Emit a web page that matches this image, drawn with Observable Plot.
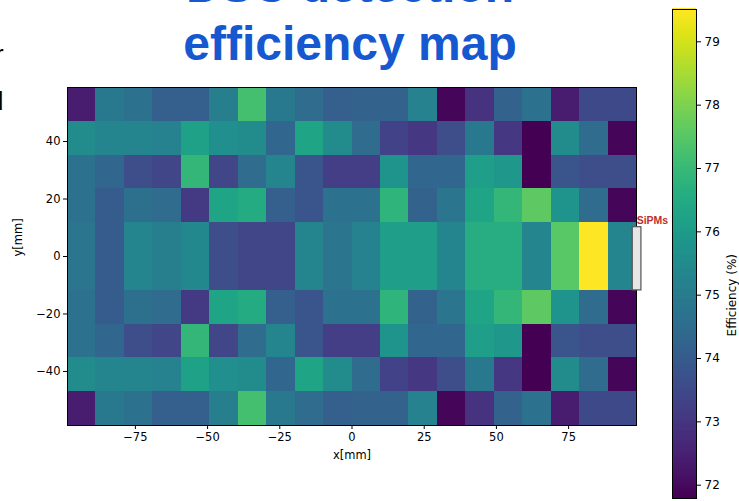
<!DOCTYPE html>
<html>
<head>
<meta charset="utf-8">
<script src="https://cdn.jsdelivr.net/npm/d3@7"></script>
<script src="https://cdn.jsdelivr.net/npm/@observablehq/plot@0.6"></script>
<style>
  body { margin: 0; background: #fff; }
  #chart { position: relative; width: 739px; height: 501px; overflow: hidden; background: #fff; }
  #chart svg { position: absolute; top: 0; }
  .edge { position: absolute; font: 26px "Liberation Sans", Arial, sans-serif; line-height: 26px; color: #000; }
</style>
</head>
<body>
<div id="chart">
  <div class="edge" style="left:-5px; top:41px;">r</div>
  <div class="edge" style="left:-11px; top:88px;">d</div>
</div>
<script>
// Bin edges of the detector map (mm)
const xEdges = [-98.5, -88.65, -78.8, -68.95, -59.1, -49.25, -39.4, -29.55, -19.7, -9.85, 0,
                 9.85, 19.7, 29.55, 39.4, 49.25, 59.1, 68.95, 78.8, 88.65, 98.5];
const yEdges = [58.8, 47.04, 35.28, 23.52, 11.76, 0, -11.76, -23.52, -35.28, -47.04, -58.8];

// Detection efficiency (%) per cell, rows listed from top (y = +58.8) to bottom
const row1  = [72.4, 74.9, 74.7, 74.1, 74.1, 75.1, 77.2, 74.9, 74.5, 74.1, 74.2, 74.2, 75.2, 71.9, 72.9, 74.2, 74.7, 72.4, 73.5, 73.5];
const row2  = [75.5, 75.3, 75.3, 75.2, 76.2, 75.6, 75.5, 74.3, 76.3, 75.5, 74.5, 73.3, 73.0, 73.6, 74.9, 73.0, 71.8, 75.5, 74.5, 71.9];
const row3  = [74.7, 74.3, 73.6, 73.4, 76.9, 73.4, 74.5, 75.3, 73.8, 73.2, 73.2, 75.8, 74.3, 74.3, 76.1, 75.9, 71.8, 73.8, 73.6, 73.6];
const row4  = [74.7, 74.0, 74.6, 74.5, 73.1, 76.3, 76.5, 74.1, 73.8, 74.7, 74.7, 76.8, 74.2, 74.8, 76.3, 76.9, 77.6, 75.8, 74.5, 71.9];
const row5  = [74.8, 74.0, 75.3, 75.1, 75.4, 73.6, 73.4, 73.4, 75.3, 74.8, 75.2, 76.1, 76.1, 75.3, 76.6, 76.6, 75.3, 77.5, 79.5, 75.3];
const row6  = [74.8, 74.0, 75.3, 75.1, 75.4, 73.6, 73.4, 73.4, 75.3, 74.8, 75.2, 76.1, 76.1, 75.3, 76.6, 76.6, 75.3, 77.5, 79.5, 75.3];
const row7  = [74.7, 74.0, 74.6, 74.5, 73.1, 76.3, 76.5, 74.1, 73.8, 74.7, 74.7, 76.8, 74.2, 74.8, 76.3, 76.9, 77.6, 75.8, 74.5, 71.9];
const row8  = [74.7, 74.3, 73.6, 73.4, 76.9, 73.4, 74.5, 75.3, 73.8, 73.2, 73.2, 75.8, 74.3, 74.3, 76.1, 75.9, 71.8, 73.8, 73.6, 73.6];
const row9  = [75.5, 75.3, 75.3, 75.2, 76.2, 75.6, 75.5, 74.3, 76.3, 75.5, 74.5, 73.3, 73.0, 73.6, 74.9, 73.0, 71.8, 75.5, 74.5, 71.9];
const row10 = [72.4, 74.9, 74.7, 74.1, 74.1, 75.1, 77.2, 74.9, 74.5, 74.1, 74.2, 74.2, 75.2, 71.9, 72.9, 74.2, 74.7, 72.4, 73.5, 73.5];

// Axis ticks
const xTicks = [-75, -50, -25, 0, 25, 50, 75];
const yTicks = [-40, -20, 0, 20, 40];
const cbarTicks = [72, 73, 74, 75, 76, 77, 78, 79];
const cbarRange = [71.79, 79.51];

// SiPM readout strip on the right edge (mm)
const sipm = [{x1: 97.2, x2: 100.2, y1: -11.8, y2: 10.2, lx: 104, ly: 11.2, label: "SiPMs"}];

const rows = [row1, row2, row3, row4, row5, row6, row7, row8, row9, row10];
const cells = [];
rows.forEach((vals, r) => vals.forEach((v, c) => cells.push({
  x1: xEdges[c], x2: xEdges[c + 1], y1: yEdges[r + 1], y2: yEdges[r], v
})));

const minus = d => (d < 0 ? "\u2212" + (-d) : String(d));
const color = {type: "linear", scheme: "viridis", domain: cbarRange};
const tickFont = "DejaVu Sans, sans-serif";

const main = Plot.plot({
  width: 739, height: 501,
  marginLeft: 67, marginRight: 103, marginTop: 87, marginBottom: 76,
  style: {fontFamily: tickFont, fontSize: "11.5px", color: "#000", background: "transparent", overflow: "visible"},
  x: {domain: [xEdges[0], xEdges[20]]},
  y: {domain: [yEdges[10], yEdges[0]]},
  color,
  marks: [
    Plot.rect(cells, {x1: "x1", x2: "x2", y1: "y1", y2: "y2", fill: "v", shapeRendering: "crispEdges"}),
    Plot.frame({stroke: "#000", strokeWidth: 1}),
    Plot.axisX({ticks: xTicks, tickSize: 4, tickPadding: 3, tickFormat: minus, label: null, stroke: "#000"}),
    Plot.axisY({ticks: yTicks, tickSize: 4, tickPadding: 3, tickFormat: minus, label: null, stroke: "#000"}),
    Plot.text(["x[mm]"], {frameAnchor: "bottom", lineAnchor: "top", dy: 25, fontSize: 11.5, fill: "#000"}),
    Plot.text(["y[mm]"], {frameAnchor: "left", rotate: -90, dx: -49, fontSize: 11.5, fill: "#000"}),
    Plot.text(["DSC detection\nefficiency map"], {
      frameAnchor: "top", lineAnchor: "bottom", dy: -28, dx: -2, lineHeight: 1.2,
      fontSize: 48, fontWeight: "bold", fontFamily: "Liberation Sans, Arial, sans-serif", fill: "#1558d0"
    }),
    Plot.rect(sipm, {x1: "x1", x2: "x2", y1: "y1", y2: "y2", fill: "#e6e6e6", stroke: "#555", strokeWidth: 1.2}),
    Plot.text(sipm, {x: "lx", y: "ly", text: "label", lineAnchor: "bottom", fontSize: 10.5, fontWeight: "bold",
      fontFamily: "Liberation Sans, Arial, sans-serif", fill: "#c0302b"})
  ]
});
main.style.left = "0px";
document.getElementById("chart").appendChild(main);

// Colour bar: a stack of thin bands sampled across the colour domain
const nBands = 300;
const bandH = (cbarRange[1] - cbarRange[0]) / nBands;
const bands = d3.range(nBands).map(i => cbarRange[0] + i * bandH);

const bar = Plot.plot({
  width: 99, height: 501,
  marginLeft: 32, marginRight: 43, marginTop: 9, marginBottom: 3,
  style: {fontFamily: tickFont, fontSize: "12px", color: "#000", background: "transparent", overflow: "visible"},
  x: {domain: [0, 1], axis: null},
  y: {domain: cbarRange},
  color,
  marks: [
    Plot.rect(bands, {x1: 0, x2: 1, y1: d => d, y2: d => d + bandH * 1.6, fill: d => d + bandH / 2}),
    Plot.frame({stroke: "#000", strokeWidth: 1}),
    Plot.axisY({anchor: "right", ticks: cbarTicks, tickSize: 4, tickPadding: 4, label: null, stroke: "#000"}),
    Plot.text(["Efficiency (%)"], {frameAnchor: "right", rotate: -90, dx: 36, fontSize: 12, fill: "#000"})
  ]
});
bar.style.left = "640px";
document.getElementById("chart").appendChild(bar);
</script>
</body>
</html>
